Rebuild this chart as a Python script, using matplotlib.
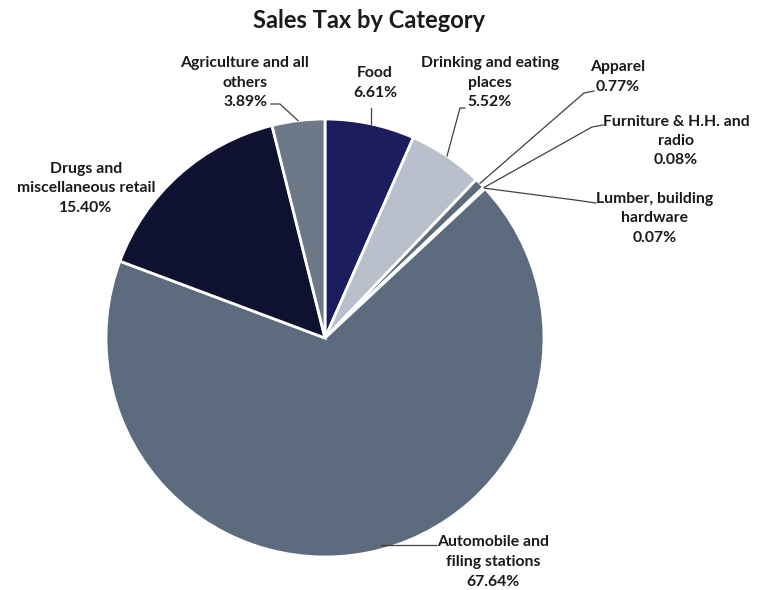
import matplotlib
matplotlib.use("Agg")
import matplotlib.pyplot as plt
import numpy as np

categories = ["Food", "Drinking and eating\nplaces", "Apparel", "Furniture & H.H. and\nradio",
              "Lumber, building\nhardware", "Automobile and\nfiling stations",
              "Drugs and\nmiscellaneous retail", "Agriculture and all\nothers"]
shares = [6.61, 5.52, 0.77, 0.08, 0.07, 67.64, 15.40, 3.89]
colors = ["#1b1d5c", "#b9c0cc", "#5f6b7a", "#6a7686", "#6a7686", "#5c6c7e", "#0f1131", "#6d7889"]

plt.rcParams["font.family"] = ["Lato", "DejaVu Sans"]

W, H = 764, 590
fig = plt.figure(figsize=(W / 100, H / 100), dpi=100)
fig.patch.set_facecolor("white")

cx, cy, R = 325, 338, 219
ax = fig.add_axes([(cx - R) / W, (H - cy - R) / H, 2 * R / W, 2 * R / H])
ax.pie(shares, colors=colors, startangle=90, counterclock=False, radius=1,
       wedgeprops=dict(edgecolor="white", linewidth=2))
ax.set_xlim(-1, 1)
ax.set_ylim(-1, 1)
ax.set_aspect("equal")
ax.axis("off")


def px(x, y):
    """Pixel position -> data coords of the pie axes."""
    return (x - cx) / R, (cy - y) / R


# wedge mid-angles for leader-line anchors
bounds = 90 - np.cumsum([0] + shares) * 3.6
mids = (bounds[:-1] + bounds[1:]) / 2


def edge(i, r=1.0):
    a = np.deg2rad(mids[i])
    return r * np.cos(a), r * np.sin(a)


# label centres (pixel) and leader-line polylines (pixel, ending on the wedge)
labels = [
    (375, 83, [(371, 108), (371, 124)]),
    (490, 83, [(465, 108), (460, 108), (447, 156)]),
    (618, 77, [(594, 91), (584, 93)]),
    (676, 141, [(603, 125), (592, 127)]),
    (655, 218, [(596, 203), (575, 200)]),
    (493, 562, [(436, 545), (381, 545)]),
    (86, 188, None),
    (245, 83, [(271, 104), (280, 104)]),
]

for i, (name, val) in enumerate(zip(categories, shares)):
    lx, ly, line = labels[i]
    tx, ty = px(lx, ly)
    ax.text(tx, ty, f"{name}\n{val:.2f}%", ha="center", va="center",
            fontsize=11.3, fontweight="bold", color="#1a1a1a", linespacing=1.5,
            clip_on=False)
    if line:
        pts = [px(*p) for p in line]
        if i in (2, 3, 4, 7):
            pts.append(edge(i))
        xs, ys = zip(*pts)
        ax.plot(xs, ys, color="#404040", linewidth=0.9, clip_on=False)

fig.text(369 / W, 1 - 20 / H, "Sales Tax by Category", ha="center", va="center",
         fontsize=17, fontweight="bold", color="#1a1a1a")

fig.savefig("out.png", dpi=100, facecolor="white")
